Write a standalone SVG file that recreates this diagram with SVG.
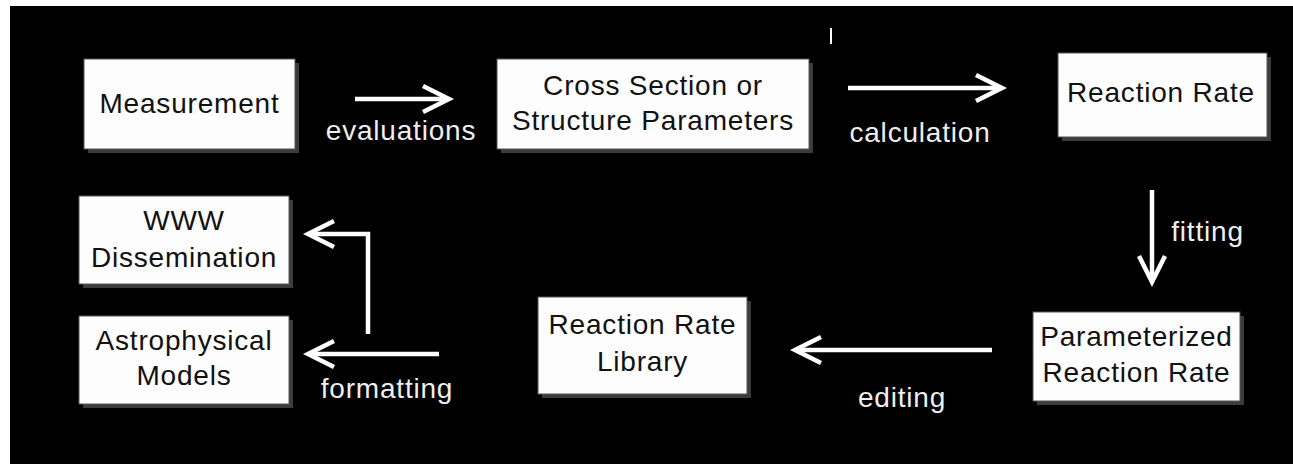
<svg xmlns="http://www.w3.org/2000/svg" width="1293" height="464" viewBox="0 0 1293 464">
<style>
.box{fill:#fdfdfd;stroke:#555;stroke-width:1}
.shadow{fill:#3c3c3c}
.nt{font-family:"Liberation Sans",Arial,sans-serif;font-size:28px;fill:#111;text-anchor:middle;letter-spacing:0.8px}
.lt{font-family:"Liberation Sans",Arial,sans-serif;font-size:28px;fill:#eee;text-anchor:middle;letter-spacing:0.8px}
.conn{fill:none;stroke:#fff;stroke-width:4.5;marker-end:url(#chev)}
</style>
<defs>
<marker id="chev" markerUnits="userSpaceOnUse" markerWidth="40" markerHeight="40" refX="0" refY="0" viewBox="-30 -20 40 40" orient="auto" overflow="visible">
<path d="M-24,-13 L2,0 L-24,13" fill="none" stroke="#fff" stroke-width="4.5" stroke-linejoin="miter"/>
</marker>
</defs>
<rect x="0" y="0" width="1293" height="464" fill="#fff"/>
<rect x="10" y="6" width="1283" height="458" fill="#000"/>
<line x1="831" y1="28" x2="831" y2="44" stroke="#fff" stroke-width="2"/>

<g id="measurement">
<rect class="shadow" x="88" y="63" width="211" height="90"/>
<rect class="box" x="84" y="59" width="211" height="90"/>
<text class="nt" x="189.5" y="113">Measurement</text>
</g>
<g id="cross-section">
<rect class="shadow" x="501" y="63" width="312" height="90"/>
<rect class="box" x="497" y="59" width="312" height="90"/>
<text class="nt" x="653" y="95">Cross Section or</text>
<text class="nt" x="653" y="130">Structure Parameters</text>
</g>
<g id="reaction-rate">
<rect class="shadow" x="1062" y="57" width="209" height="84"/>
<rect class="box" x="1058" y="53" width="209" height="84"/>
<text class="nt" x="1161" y="102">Reaction Rate</text>
</g>
<g id="parameterized">
<rect class="shadow" x="1037" y="316" width="207" height="89"/>
<rect class="box" x="1033" y="312" width="207" height="89"/>
<text class="nt" x="1136.5" y="346">Parameterized</text>
<text class="nt" x="1136.5" y="382">Reaction Rate</text>
</g>
<g id="library">
<rect class="shadow" x="542" y="301" width="209" height="97"/>
<rect class="box" x="538" y="297" width="209" height="97"/>
<text class="nt" x="642.5" y="334">Reaction Rate</text>
<text class="nt" x="642.5" y="371">Library</text>
</g>
<g id="www">
<rect class="shadow" x="83" y="200" width="210" height="88"/>
<rect class="box" x="79" y="196" width="210" height="88"/>
<text class="nt" x="184" y="230">WWW</text>
<text class="nt" x="184" y="267">Dissemination</text>
</g>
<g id="astro">
<rect class="shadow" x="83" y="320" width="210" height="88"/>
<rect class="box" x="79" y="316" width="210" height="88"/>
<text class="nt" x="184" y="350">Astrophysical</text>
<text class="nt" x="184" y="385">Models</text>
</g>

<g id="connectors">
<path class="conn" d="M355,99 H447"/>
<path class="conn" d="M848,88 H1000"/>
<path class="conn" d="M1152,190 V280"/>
<path class="conn" d="M992,350 H797"/>
<path class="conn" d="M439,354 H310"/>
<path class="conn" d="M368,334 V234 H310"/>
<text class="lt" x="401" y="140">evaluations</text>
<text class="lt" x="920" y="142">calculation</text>
<text class="lt" x="1207.5" y="241">fitting</text>
<text class="lt" x="902" y="407">editing</text>
<text class="lt" x="387" y="398">formatting</text>
</g>
</svg>
